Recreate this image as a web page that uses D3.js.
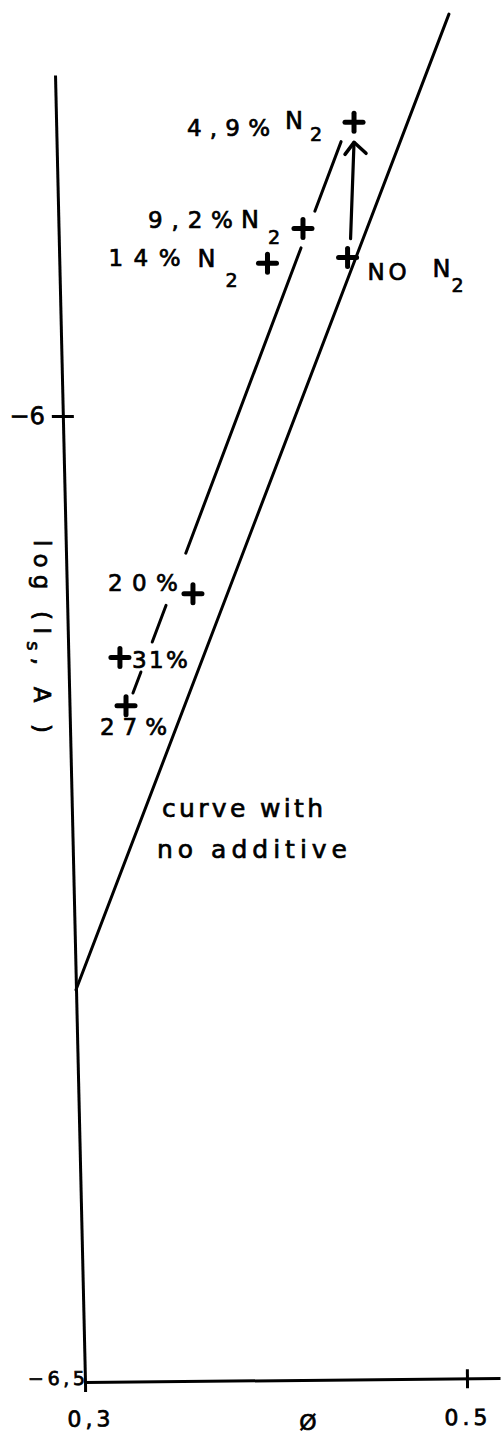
<!DOCTYPE html>
<html>
<head>
<meta charset="utf-8">
<script src="https://cdn.jsdelivr.net/npm/d3@7"></script>
<style>
  html, body { margin: 0; padding: 0; background: #fff; }
  svg { display: block; }
  text { font-family: "DejaVu Sans", sans-serif; fill: #000; stroke: #000; stroke-width: 0.7px; }
</style>
</head>
<body>
<script>
// Saturation current vs. equivalence ratio, with N2 dilution
const curvePhi = [0.300, 0.507];            // curve with no additive (end points)
const curveLogIs = [-6.297, -5.792];

const fitPhi = [0.3334, 0.449];             // line through the diluted points
const fitLogIs = [-6.1434, -5.858];
// drawn pieces of that line, as log(Is) ranges
const fitPieces = [[-5.858, -5.894], [-5.913, -6.071], [-6.098, -6.117], [-6.1325, -6.1434]];

const pointText = ["4,9%", "9,2%", "14%", "NO", "20%", "31%", "27%"];
const pointN2 = [true, true, true, true, false, false, false];
const pointPhi = [0.456, 0.428, 0.409, 0.451, 0.366, 0.327, 0.3296];
const pointLogIs = [-5.848, -5.903, -5.921, -5.918, -6.092, -6.125, -6.150];

const yTicks = [-6, -6.5];
const yTickText = ["\u22126", "\u22126,5"];
const xTicks = [0.3, 0.5];
const xTickText = ["0,3", "0.5"];

const W = 503, H = 1434;
const svg = d3.select("body").append("svg").attr("width", W).attr("height", H);
svg.append("rect").attr("width", W).attr("height", H).attr("fill", "#fff");

const x = d3.scaleLinear().domain([0.3, 0.5173]).range([85, 500]);
const y = d3.scaleLinear().domain([-6.5, -5.8235]).range([1382, 75]);
const baseY = y(-6.5);
const lean = 0.02295;                        // the vertical axis leans slightly
const leanDeg = Math.atan(lean) * 180 / Math.PI;
const px = (p, v) => [x(p) - lean * (baseY - y(v)), y(v)];

// ---- y axis ----
const gy = svg.append("g")
  .attr("transform", `translate(0,${baseY}) skewX(${leanDeg}) translate(0,${-baseY}) translate(${x(0.3)},0)`)
  .call(d3.axisLeft(y).tickValues(yTicks).tickSize(11).tickSizeOuter(0).tickPadding(7)
    .tickFormat((d, i) => yTickText[i]));
gy.select(".domain").attr("stroke", "#000").attr("stroke-width", 3);
gy.selectAll(".tick line").attr("stroke", "#000").attr("stroke-width", 3).attr("x1", 11);
gy.selectAll(".tick text").attr("font-size", 24).attr("font-family", "DejaVu Sans").attr("fill", "#000");
gy.selectAll(".tick").filter(d => d === -6.5).each(function () {
  const t = d3.select(this);
  t.select("line").remove();
  t.select("text").attr("font-size", 19).attr("x", 0).attr("dy", "0.15em")
    .attr("textLength", 57).attr("lengthAdjust", "spacing");
});

// ---- x axis ----
const gx = svg.append("g")
  .attr("transform", `translate(0,${baseY}) rotate(-0.55,${x(0.3)},0)`)
  .call(d3.axisBottom(x).tickValues(xTicks).tickSize(9).tickSizeOuter(0).tickPadding(22)
    .tickFormat((d, i) => xTickText[i]));
gx.select(".domain").attr("stroke", "#000").attr("stroke-width", 3);
gx.selectAll(".tick line").attr("stroke", "#000").attr("stroke-width", 3)
  .attr("y1", d => d === 0.3 ? 0 : -9).attr("y2", 10);
gx.selectAll(".tick text").attr("font-size", 22).attr("font-family", "DejaVu Sans")
  .attr("fill", "#000").attr("letter-spacing", 4);
gx.selectAll(".tick").filter(d => d === 0.3).select("text").attr("dy", "0.62em").attr("dx", 5);

svg.append("text").attr("x", 308).attr("y", 1430).attr("text-anchor", "middle")
  .attr("font-size", 22).text("\u00D8");

// y title, written downwards
const yt = svg.append("text").attr("transform", "translate(34,540) rotate(90)")
  .attr("font-size", 23).attr("textLength", 193).attr("lengthAdjust", "spacing");
yt.append("tspan").text("log (I");
yt.append("tspan").attr("dy", 7).attr("font-size", 18).text("s");
yt.append("tspan").attr("dy", -7).text(", A )");

// ---- curve with no additive ----
const line = d3.line().x(d => d[0]).y(d => d[1]);
svg.append("path")
  .attr("d", line(curvePhi.map((p, i) => px(p, curveLogIs[i]))))
  .attr("fill", "none").attr("stroke", "#000").attr("stroke-width", 3).attr("stroke-linecap", "round");

svg.append("text").attr("x", 162).attr("y", 817).attr("font-size", 25)
  .attr("textLength", 161).attr("lengthAdjust", "spacing").text("curve with");
svg.append("text").attr("x", 157).attr("y", 858).attr("font-size", 25)
  .attr("textLength", 190).attr("lengthAdjust", "spacing").text("no additive");

// ---- line through the N2 points, broken around labels ----
const fitAt = v => fitPhi[0] + (v - fitLogIs[0]) * (fitPhi[1] - fitPhi[0]) / (fitLogIs[1] - fitLogIs[0]);
fitPieces.forEach(([a, b]) => {
  svg.append("path")
    .attr("d", line([px(fitAt(a), a), px(fitAt(b), b)]))
    .attr("fill", "none").attr("stroke", "#000").attr("stroke-width", 3).attr("stroke-linecap", "round");
});

// ---- arrow from the undiluted point to the 4,9% point ----
{
  const a = px(pointPhi[3], pointLogIs[3]);
  const b = px(pointPhi[0], pointLogIs[0]);
  const start = [a[0] + 3, a[1] - 19];
  const tip = [b[0], b[1] + 20];
  svg.append("path").attr("d", line([start, tip]))
    .attr("fill", "none").attr("stroke", "#000").attr("stroke-width", 3.2).attr("stroke-linecap", "round");
  svg.append("path").attr("d", line([[tip[0] - 9, tip[1] + 12], tip, [tip[0] + 12, tip[1] + 11]]))
    .attr("fill", "none").attr("stroke", "#000").attr("stroke-width", 3.5)
    .attr("stroke-linecap", "round").attr("stroke-linejoin", "round");
}

// ---- data points ----
const pts = pointPhi.map((p, i) => px(p, pointLogIs[i]));
const cross = svg.append("g").attr("stroke", "#000").attr("stroke-width", 5).attr("stroke-linecap", "round");
pts.forEach(([cx, cy]) => {
  cross.append("line").attr("x1", cx - 9).attr("x2", cx + 9).attr("y1", cy).attr("y2", cy);
  cross.append("line").attr("x1", cx).attr("x2", cx).attr("y1", cy - 9).attr("y2", cy + 9);
});

// label placement relative to each point: [dx, dy, width] for the main text,
// then N and subscript offsets
const labelPos = [
  { t: [-167, 14, 83], n: [-69, 7], s: [-44, 19] },
  { t: [-155, -1, 85], n: [-62, -1], s: [-35, 15] },
  { t: [-159, 3, 72], n: [-70, 4], s: [-42, 24] },
  { t: [20, 22, 39], n: [85, 19], s: [104, 34] },
  { t: [-85, -3, 70] },
  { t: [12, 11, 56] },
  { t: [-26, 29, 67] }
];

pts.forEach(([cx, cy], i) => {
  const L = labelPos[i];
  svg.append("text").attr("x", cx + L.t[0]).attr("y", cy + L.t[1])
    .attr("font-size", 23).attr("textLength", L.t[2]).attr("lengthAdjust", "spacing")
    .text(pointText[i]);
  if (pointN2[i]) {
    svg.append("text").attr("x", cx + L.n[0]).attr("y", cy + L.n[1]).attr("font-size", 24).text("N");
    svg.append("text").attr("x", cx + L.s[0]).attr("y", cy + L.s[1]).attr("font-size", 19).text("2");
  }
});
</script>
</body>
</html>
